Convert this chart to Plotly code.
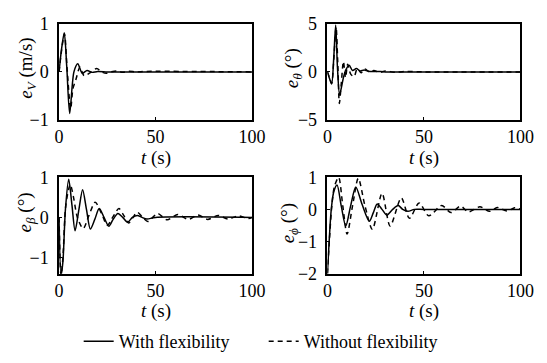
import plotly.graph_objects as go

# ---- data ----
# e_V (m/s)
t_v_flex = [0, 1.2, 2.7, 4.0, 5.5, 7.7, 9.7, 12, 14.5, 17, 20, 25, 30, 100]
v_v_flex = [0, 0.45, 0.82, 0.1, -0.87, 0.0, 0.17, -0.03, 0.03, -0.01, 0.01, 0, 0, 0]
t_v_rigid = [0, 1.2, 2.8, 4.2, 6.0, 7.2, 8.8, 10.8, 13, 16, 19.5, 22, 24.5, 27, 30, 33, 36, 40, 45, 100]
v_v_rigid = [0, 0.42, 0.8, 0.05, -0.78, -0.35, -0.15, 0.1, -0.08, -0.02, 0.07, 0.0, -0.03, 0.0, 0.02, -0.01, 0.015, 0, 0.01, 0]

# e_theta (deg)
t_th_flex = [0, 1.1, 2.2, 3.3, 4.3, 5.2, 6.3, 7.3, 8.3, 9.5, 11.3, 13, 15, 17, 19, 22, 26, 30, 100]
v_th_flex = [0, -0.7, -1.27, 1.5, 4.9, 0.5, -2.4, -1.6, -0.6, 0.2, 0.7, 0.15, 0.35, 0.1, 0.2, 0.05, 0.05, 0, 0]
t_th_rigid = [0, 1.1, 2.2, 3.4, 4.5, 5.4, 6.2, 7.2, 8.3, 9.4, 10.5, 12, 13.8, 15.5, 17.5, 19.5, 22, 24, 27, 30, 35, 40, 50, 100]
v_th_rigid = [0, -0.6, -1.2, 1.6, 4.7, 0.8, -3.3, -1.2, 1.1, -0.6, 0.8, -0.2, -0.5, 0.35, -0.1, 0.3, -0.05, 0.15, -0.05, 0.1, -0.05, 0.05, 0, 0]

# e_beta (deg)
t_b_flex = [0, 1.0, 2.0, 3.3, 5.0, 6.7, 8.3, 10.3, 12.2, 14.2, 16.2, 18.5, 20.8, 23.3, 25.8, 28, 30.5, 33, 35.5, 38, 40.5, 43, 45.5, 50, 100]
v_b_flex = [0, -1.45, -1.1, 0.2, 0.95, 0.3, -0.33, 0.2, 0.69, 0.2, -0.29, -0.05, 0.22, 0.0, -0.22, -0.05, 0.1, 0.0, -0.12, 0, 0.05, 0, -0.04, 0, 0]
t_b_rigid = [0, 1.0, 2.0, 3.5, 5.8, 7.5, 9.5, 12.5, 15.5, 18.7, 22, 25, 28, 31, 33.5, 36, 38.3, 40.5, 43.3, 46, 48.5, 51, 56, 61.5, 67, 72, 77, 82.5, 87.5, 93, 98, 100]
v_b_rigid = [0, -1.45, -1.0, 0.3, 0.82, 0.5, 0.0, -0.28, 0.05, 0.38, 0.1, -0.2, 0.02, 0.22, 0.05, -0.14, 0.0, 0.13, 0.0, -0.1, 0.0, 0.1, -0.06, 0.07, -0.05, 0.06, -0.05, 0.05, -0.04, 0.04, -0.03, 0.0]

# e_phi (deg)
t_p_flex = [0, 1.0, 2.0, 3.3, 5.0, 7.2, 9.5, 12, 14.7, 18, 21.7, 23.8, 25.8, 28.3, 30.8, 33.8, 36.7, 39, 41.7, 45, 50, 100]
v_p_flex = [-2.0, -0.9, 0.0, 0.55, 0.76, 0.1, -0.52, 0.1, 0.7, 0.15, -0.37, -0.1, 0.17, 0.0, -0.18, 0.0, 0.12, 0.0, -0.06, 0.0, 0.0, 0.0]
t_p_rigid = [0, 1.1, 2.2, 3.6, 5.8, 8, 10.2, 13, 16, 19.5, 23.3, 28.3, 32.5, 38.3, 42.5, 47.5, 52.5, 59.2, 64, 69, 73, 79, 84, 88, 93, 97, 100]
v_p_rigid = [-2.0, -0.9, 0.05, 0.7, 1.0, 0.1, -0.77, 0.1, 0.97, 0.1, -0.62, 0.5, -0.52, 0.36, -0.28, 0.2, -0.2, 0.12, -0.1, 0.1, -0.08, 0.08, -0.06, 0.06, -0.05, 0.05, 0.0]

x_ticks = [0, 50, 100]

panels = [
    dict(t1=t_v_flex, v1=v_v_flex, t2=t_v_rigid, v2=v_v_rigid, yr=[-1, 1], yt=[-1, 0, 1],
         title="<i>e</i><sub><i>V</i></sub> (m/s)"),
    dict(t1=t_th_flex, v1=v_th_flex, t2=t_th_rigid, v2=v_th_rigid, yr=[-5, 5], yt=[-5, 0, 5],
         title="<i>e</i><sub><i>θ</i></sub> (°)"),
    dict(t1=t_b_flex, v1=v_b_flex, t2=t_b_rigid, v2=v_b_rigid, yr=[-1.4, 1], yt=[-1, 0, 1],
         title="<i>e</i><sub><i>β</i></sub> (°)"),
    dict(t1=t_p_flex, v1=v_p_flex, t2=t_p_rigid, v2=v_p_rigid, yr=[-2, 1], yt=[-2, -1, 0, 1],
         title="<i>e</i><sub><i>ϕ</i></sub> (°)"),
]

W, H = 547, 363
FONT = "Liberation Serif"
xdoms = [[56 / W, 256 / W], [334 / W, 534 / W]]
ydoms = [[1 - 116 / H, 1 - 15 / H], [1 - 279 / H, 1 - 177 / H]]
ytitle_x = [22 / W, 22 / W, 298 / W, 294 / W]
ytitle_y = [1 - 62 / H, 1 - 62 / H, 1 - 214 / H, 1 - 226 / H]
xtitle_y = [1 - 157 / H, 1 - 319 / H]

fig = go.Figure()
layout = dict(
    width=W, height=H, margin=dict(l=0, r=0, t=0, b=0),
    paper_bgcolor="white", plot_bgcolor="white",
    font=dict(family=FONT, size=18, color="black"),
    showlegend=True,
    legend=dict(orientation="h", x=268 / W, xanchor="center", y=12 / H, yanchor="middle",
                font=dict(family=FONT, size=18), bgcolor="rgba(0,0,0,0)",
                itemwidth=30, tracegroupgap=0, entrywidth=140, entrywidthmode="pixels"),
)
title_x = [22 / W, 298 / W, 22 / W, 294 / W]
annotations = []
for i, p in enumerate(panels):
    r, c = divmod(i, 2)
    n = i + 1
    xa = "x" if n == 1 else f"x{n}"
    ya = "y" if n == 1 else f"y{n}"
    fig.add_trace(go.Scatter(x=p["t1"], y=p["v1"], mode="lines", xaxis=xa, yaxis=ya,
                             line=dict(color="black", width=1.5, shape="spline", smoothing=0.8),
                             name="With flexibility", showlegend=(i == 0)))
    fig.add_trace(go.Scatter(x=p["t2"], y=p["v2"], mode="lines", xaxis=xa, yaxis=ya,
                             line=dict(color="black", width=1.5, dash="5px,4px", shape="spline", smoothing=0.8),
                             name="Without flexibility", showlegend=(i == 0)))
    axcommon = dict(showline=True, linecolor="black", linewidth=1.5, mirror=True,
                    showgrid=False, zeroline=False, ticks="inside", ticklen=3,
                    tickcolor="black", tickfont=dict(family=FONT, size=18, color="black"))
    layout["xaxis" if n == 1 else f"xaxis{n}"] = dict(
        domain=xdoms[c], range=[0, 100], tickvals=x_ticks, anchor=ya, **axcommon)
    layout["yaxis" if n == 1 else f"yaxis{n}"] = dict(
        domain=ydoms[r], range=p["yr"], tickvals=p["yt"], anchor=xa,
        ticklabelstandoff=5, **axcommon)
    annotations.append(dict(text="<i>t</i> (s)", xref="paper", yref="paper",
                            x=(xdoms[c][0] + xdoms[c][1]) / 2, y=xtitle_y[r],
                            xanchor="center", yanchor="middle", showarrow=False,
                            font=dict(family=FONT, size=19)))
    annotations.append(dict(text=p["title"], xref="paper", yref="paper",
                            x=title_x[i], y=ytitle_y[i], textangle=-90,
                            xanchor="center", yanchor="middle", showarrow=False,
                            font=dict(family=FONT, size=19)))
layout["annotations"] = annotations
fig.update_layout(**layout)
fig.write_html("out.html")
